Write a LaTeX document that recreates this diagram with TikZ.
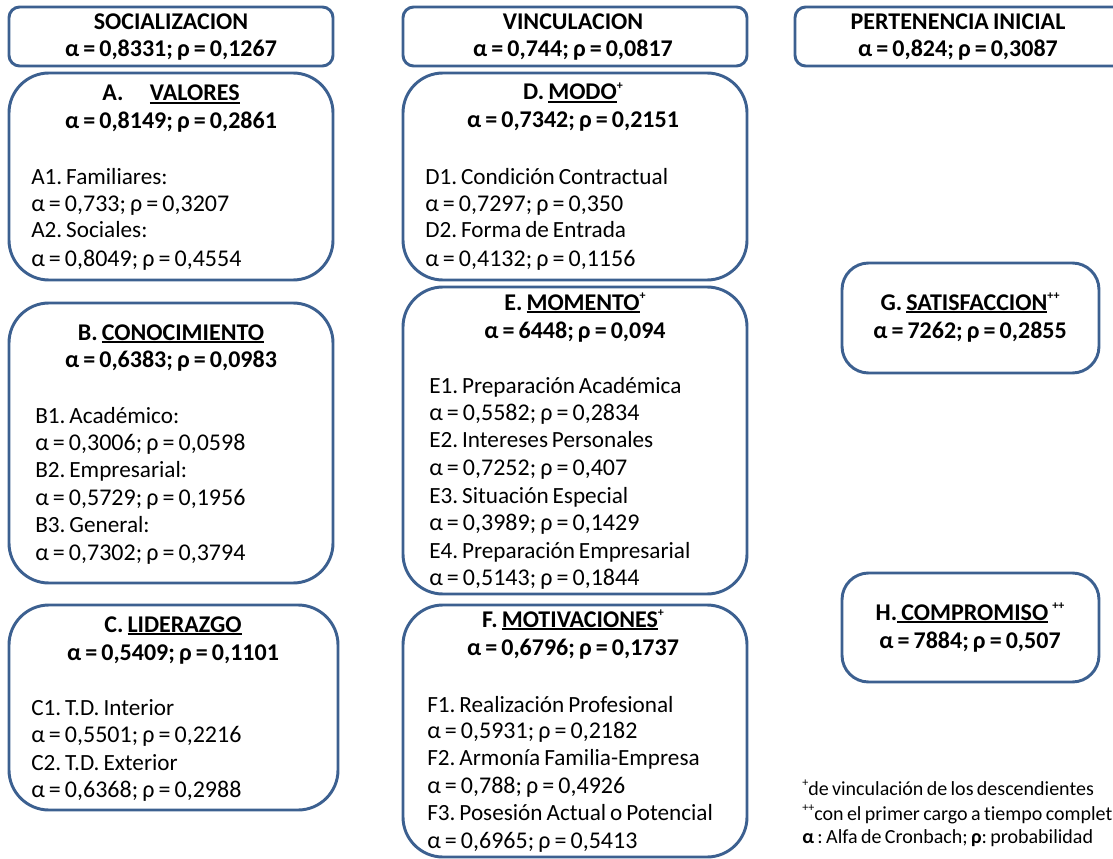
\documentclass[tikz,border=0pt]{standalone}
\usepackage{fontspec}
\setmainfont{Carlito}[WordSpace=0.75,Ligatures=NoCommon]
\frenchspacing
\definecolor{frame}{HTML}{3C6090}
\newcommand\ulword[1]{\leavevmode\setbox0\hbox{#1}\rlap{\rule[-2.6pt]{\wd0}{1.6pt}}\box0}
\newcommand\supmark[1]{\raisebox{0.9ex}{\fontsize{9}{9}\selectfont #1}}
\newcommand\panelbox[6]{%
  \node[panel, rounded corners=#6, minimum width={(#4-#2)*0.75pt},
        minimum height={(#5-#3)*0.75pt}] (#1) at ({(#2+#4)/2},{(#3+#5)/2}) {};}
\tikzset{
  panel/.style={draw=frame, line width=2.2pt, inner sep=0pt, outer sep=0pt},
  item/.style={anchor=base west, inner sep=0pt, font=\fontsize{17.4}{20}\selectfont},
  val/.style={anchor=base west, inner sep=0pt, font=\fontsize{18}{20}\selectfont},
  head/.style={anchor=base, inner sep=0pt, font=\fontsize{18}{20}\selectfont\bfseries},
  note/.style={anchor=base west, inner sep=0pt, font=\fontsize{15}{16}\selectfont}
}
\begin{document}
\begin{tikzpicture}[x=0.75pt,y=-0.75pt]
\useasboundingbox (0,0) rectangle (1113,859);
\clip (0,0) rectangle (1113,859);

% frames
\panelbox{soc}{9}{7}{333}{66}{8pt}
\panelbox{vin}{403}{7}{747}{66}{8pt}
\panelbox{per}{795}{7}{1150}{66}{8pt}
\panelbox{A}{9}{73}{333}{280}{30pt}
\panelbox{D}{403}{73}{747}{280}{30pt}
\panelbox{B}{9}{303}{333}{583}{30pt}
\panelbox{E}{403}{287}{747}{594}{30pt}
\panelbox{C}{9}{605}{338}{810}{30pt}
\panelbox{F}{403}{605}{747}{857}{30pt}
\panelbox{G}{842}{263}{1099}{373}{20pt}
\panelbox{H}{842}{573}{1099}{682}{20pt}

% column titles
\node[head] (socT) at (171,30) {SOCIALIZACION};
\node[head] (socV) at (171,57) {α = 0,8331; ρ = 0,1267};
\node[head] (vinT) at (573,30) {VINCULACION};
\node[head] (vinV) at (573,57) {α = 0,744; ρ = 0,0817};
\node[head] (perT) at (958,30) {PERTENENCIA INICIAL};
\node[head] (perV) at (958,57) {α = 0,824; ρ = 0,3087};

% A
\node[head] (AT) at (171,101) {A.\hspace{1.1em}\ulword{VALORES}};
\node[head] (AV) at (171,129) {α = 0,8149; ρ = 0,2861};
\node[item] (A1) at (31,185) {A1. Familiares:};
\node[val] (A1v) at (31,212) {α = 0,733; ρ = 0,3207};
\node[item] (A2) at (31,238) {A2. Sociales:};
\node[val] (A2v) at (31,267) {α = 0,8049; ρ = 0,4554};

% B
\node[head] (BT) at (171,340) {B. \ulword{CONOCIMIENTO}};
\node[head] (BV) at (171,367) {α = 0,6383; ρ = 0,0983};
\node[item] (B1) at (35,423) {B1. Académico:};
\node[val] (B1v) at (35,450) {α = 0,3006; ρ = 0,0598};
\node[item] (B2) at (35,477) {B2. Empresarial:};
\node[val] (B2v) at (35,505) {α = 0,5729; ρ = 0,1956};
\node[item] (B3) at (35,532) {B3. General:};
\node[val] (B3v) at (35,560) {α = 0,7302; ρ = 0,3794};

% C
\node[head] (CT) at (173,632) {C. \ulword{LIDERAZGO}};
\node[head] (CV) at (173,660) {α = 0,5409; ρ = 0,1101};
\node[item] (C1) at (31,715) {C1. T.D. Interior};
\node[val] (C1v) at (31,742) {α = 0,5501; ρ = 0,2216};
\node[item] (C2) at (31,770) {C2. T.D. Exterior};
\node[val] (C2v) at (31,797) {α = 0,6368; ρ = 0,2988};

% D
\node[head] (DT) at (573,100) {D. \ulword{MODO}\supmark{+}};
\node[head] (DV) at (573,128) {α = 0,7342; ρ = 0,2151};
\node[item] (D1) at (425,185) {D1. Condición Contractual};
\node[val] (D1v) at (425,212) {α = 0,7297; ρ = 0,350};
\node[item] (D2) at (425,238) {D2. Forma de Entrada};
\node[val] (D2v) at (425,267) {α = 0,4132; ρ = 0,1156};

% E
\node[head] (ET) at (575,310) {E. \ulword{MOMENTO}\supmark{+}};
\node[head] (EV) at (575,338) {α = 6448; ρ = 0,094};
\node[item] (E1) at (429,393) {E1. Preparación Académica};
\node[val] (E1v) at (429,420) {α = 0,5582; ρ = 0,2834};
\node[item] (E2) at (429,447) {E2. Intereses Personales};
\node[val] (E2v) at (429,475) {α = 0,7252; ρ = 0,407};
\node[item] (E3) at (429,503) {E3. Situación Especial};
\node[val] (E3v) at (429,530) {α = 0,3989; ρ = 0,1429};
\node[item] (E4) at (429,558) {E4. Preparación Empresarial};
\node[val] (E4v) at (429,585) {α = 0,5143; ρ = 0,1844};

% F
\node[head] (FT) at (573,627) {F. \ulword{MOTIVACIONES}\supmark{+}};
\node[head] (FV) at (573,655) {α = 0,6796; ρ = 0,1737};
\node[item] (F1) at (427,712) {F1. Realización Profesional};
\node[val] (F1v) at (427,738) {α = 0,5931; ρ = 0,2182};
\node[item] (F2) at (427,765) {F2. Armonía Familia-Empresa};
\node[val] (F2v) at (427,793) {α = 0,788; ρ = 0,4926};
\node[item] (F3) at (427,820) {F3. Posesión Actual o Potencial};
\node[val] (F3v) at (427,848) {α = 0,6965; ρ = 0,5413};

% G and H
\node[head] (GT) at (970,310) {G. \ulword{SATISFACCION}\supmark{++}};
\node[head] (GV) at (970,338) {α = 7262; ρ = 0,2855};
\node[head] (HT) at (970,620) {H.\ulword{ COMPROMISO}\,\supmark{++}};
\node[head] (HV) at (970,648) {α = 7884; ρ = 0,507};

% notes
\node[note] (n1) at (802,795) {\supmark{+}de vinculación de los descendientes};
\node[note] (n2) at (802,820) {\supmark{++}con el primer cargo a tiempo complet};
\node[note] (n3) at (802,843) {\textbf{α} : Alfa de Cronbach; \textbf{ρ}: probabilidad};
\end{tikzpicture}
\end{document}
